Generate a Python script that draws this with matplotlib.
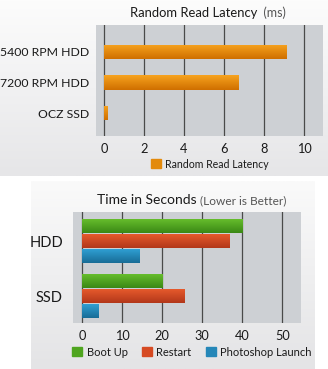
import numpy as np
import matplotlib
matplotlib.use("Agg")
from matplotlib import pyplot as plt
from matplotlib.colors import LinearSegmentedColormap

plt.rcParams['font.family'] = ['Lato', 'DejaVu Sans']

# top chart data
drives = ["5400 RPM HDD", "7200 RPM HDD", "OCZ SSD"]
latency = [9.15, 6.72, 0.17]
latency_ticks = [0, 2, 4, 6, 8, 10]

# bottom chart data
disk_types = ["HDD", "SSD"]
boot_up = [40.1, 20.1]
restart = [36.9, 25.7]
photoshop = [14.4, 4.2]
time_ticks = [0, 10, 20, 30, 40, 50]

ORANGE = ("#f7a31e", "#cf6f00")
GREEN = ("#66bd2c", "#3a8815")
RED = ("#e65a2c", "#b2371a")
BLUE = ("#2f9fd3", "#186c96")
GRID = "#4a4a4a"
PLOT_BG = "#cdd0d4"
TXT = "#1a1a1a"
TXT_LIGHT = "#555555"

W, H = 328, 369
fig = plt.figure(figsize=(W / 100, H / 100), dpi=100)
fig.patch.set_facecolor("white")


def px(x0, y0, x1, y1):
    # pixel box (top-left origin) -> figure rect
    return [x0 / W, 1 - y1 / H, (x1 - x0) / W, (y1 - y0) / H]


# background panels
bg = fig.add_axes([0, 0, 1, 1], zorder=-10)
bg.set_xlim(0, W)
bg.set_ylim(H, 0)
bg.axis("off")
grad = np.linspace(0, 1, 100).reshape(-1, 1)
cm_top = LinearSegmentedColormap.from_list("t", ["#fcfcfc", "#e6e6e8"])
cm_bot = LinearSegmentedColormap.from_list("b", ["#fafafa", "#e4e4e6"])
bg.imshow(grad, cmap=cm_top, extent=(0, W, 176, 0), aspect="auto")
bg.imshow(grad, cmap=cm_bot, extent=(31, 315, H, 181), aspect="auto")
bg.set_xlim(0, W)
bg.set_ylim(H, 0)


def gradient_bars(ax, bars, colors):
    cmap = LinearSegmentedColormap.from_list("g", list(colors))
    for b in bars:
        bb = b.get_bbox()
        im = ax.imshow(grad, cmap=cmap, aspect="auto",
                       extent=(bb.x0, bb.x1, bb.y1, bb.y0), zorder=3)
        im.set_clip_path(b)
        b.set_facecolor("none")


def style_axes(ax, ticks):
    ax.set_facecolor(PLOT_BG)
    for s in ax.spines.values():
        s.set_visible(False)
    ax.set_xticks(ticks)
    ax.grid(axis="x", color=GRID, lw=0.9, zorder=1)
    ax.set_axisbelow(True)
    ax.tick_params(length=0, labelsize=9.2, labelcolor=TXT, pad=5)
    ax.tick_params(axis="y", labelsize=8.8, pad=5)


# ---- top chart
ax1 = fig.add_axes(px(96, 25, 323, 136))
pos1 = np.arange(len(drives))
b1 = ax1.barh(pos1, latency, height=0.46, color=ORANGE[0], zorder=3)
ax1.set_yticks(pos1)
ax1.set_yticklabels(drives)
style_axes(ax1, latency_ticks)
gradient_bars(ax1, b1, ORANGE)
ax1.set_xlim(-0.4, 10.95)
ax1.set_ylim(2.75, -0.88)

t1 = fig.text(130 / W, 1 - 13 / H, "Random Read Latency", fontsize=9.4,
              color=TXT, va="center", ha="left")
ax1.annotate("  (ms)", xy=(1, 0), xycoords=t1, va="bottom", ha="left",
             fontsize=9, color=TXT_LIGHT, annotation_clip=False)

h1 = plt.Rectangle((0, 0), 1, 1, color="#e38a0c")
fig.legend([h1], ["Random Read Latency"], loc="center",
           bbox_to_anchor=(210 / W, 1 - 164 / H), frameon=False,
           fontsize=7.6, handlelength=0.9, handleheight=0.9,
           handletextpad=0.4, labelcolor=TXT)

# ---- bottom chart
ax2 = fig.add_axes(px(72.7, 211.7, 301, 323.3))
pos2 = np.arange(len(disk_types))
off = 0.273
hgt = 0.245
b_boot = ax2.barh(pos2 - off, boot_up, height=hgt, zorder=3)
b_rest = ax2.barh(pos2, restart, height=hgt, zorder=3)
b_photo = ax2.barh(pos2 + off, photoshop, height=hgt, zorder=3)
ax2.set_yticks(pos2)
ax2.set_yticklabels(disk_types)
style_axes(ax2, time_ticks)
ax2.tick_params(axis="y", labelsize=10.5, pad=7)
gradient_bars(ax2, b_boot, GREEN)
gradient_bars(ax2, b_rest, RED)
gradient_bars(ax2, b_photo, BLUE)
ax2.set_xlim(-2.4, 54.7)
ax2.set_ylim(1.496, -0.533)

t2 = fig.text(97 / W, 1 - 200 / H, "Time in Seconds", fontsize=10,
              color=TXT, va="center", ha="left")
ax2.annotate(" (Lower is Better)", xy=(1, 0), xycoords=t2, va="bottom",
             ha="left", fontsize=8.6, color=TXT_LIGHT, annotation_clip=False)

hs = [plt.Rectangle((0, 0), 1, 1, color=c) for c in
      ("#4fa51f", "#d64a22", "#2587b8")]
fig.legend(hs, ["Boot Up", "Restart", "Photoshop Launch"], loc="center",
           bbox_to_anchor=(192 / W, 1 - 352 / H), frameon=False, ncol=3,
           fontsize=8, handlelength=0.9, handleheight=0.9,
           handletextpad=0.4, columnspacing=1.3, labelcolor=TXT)

fig.savefig("out.png", dpi=100)
